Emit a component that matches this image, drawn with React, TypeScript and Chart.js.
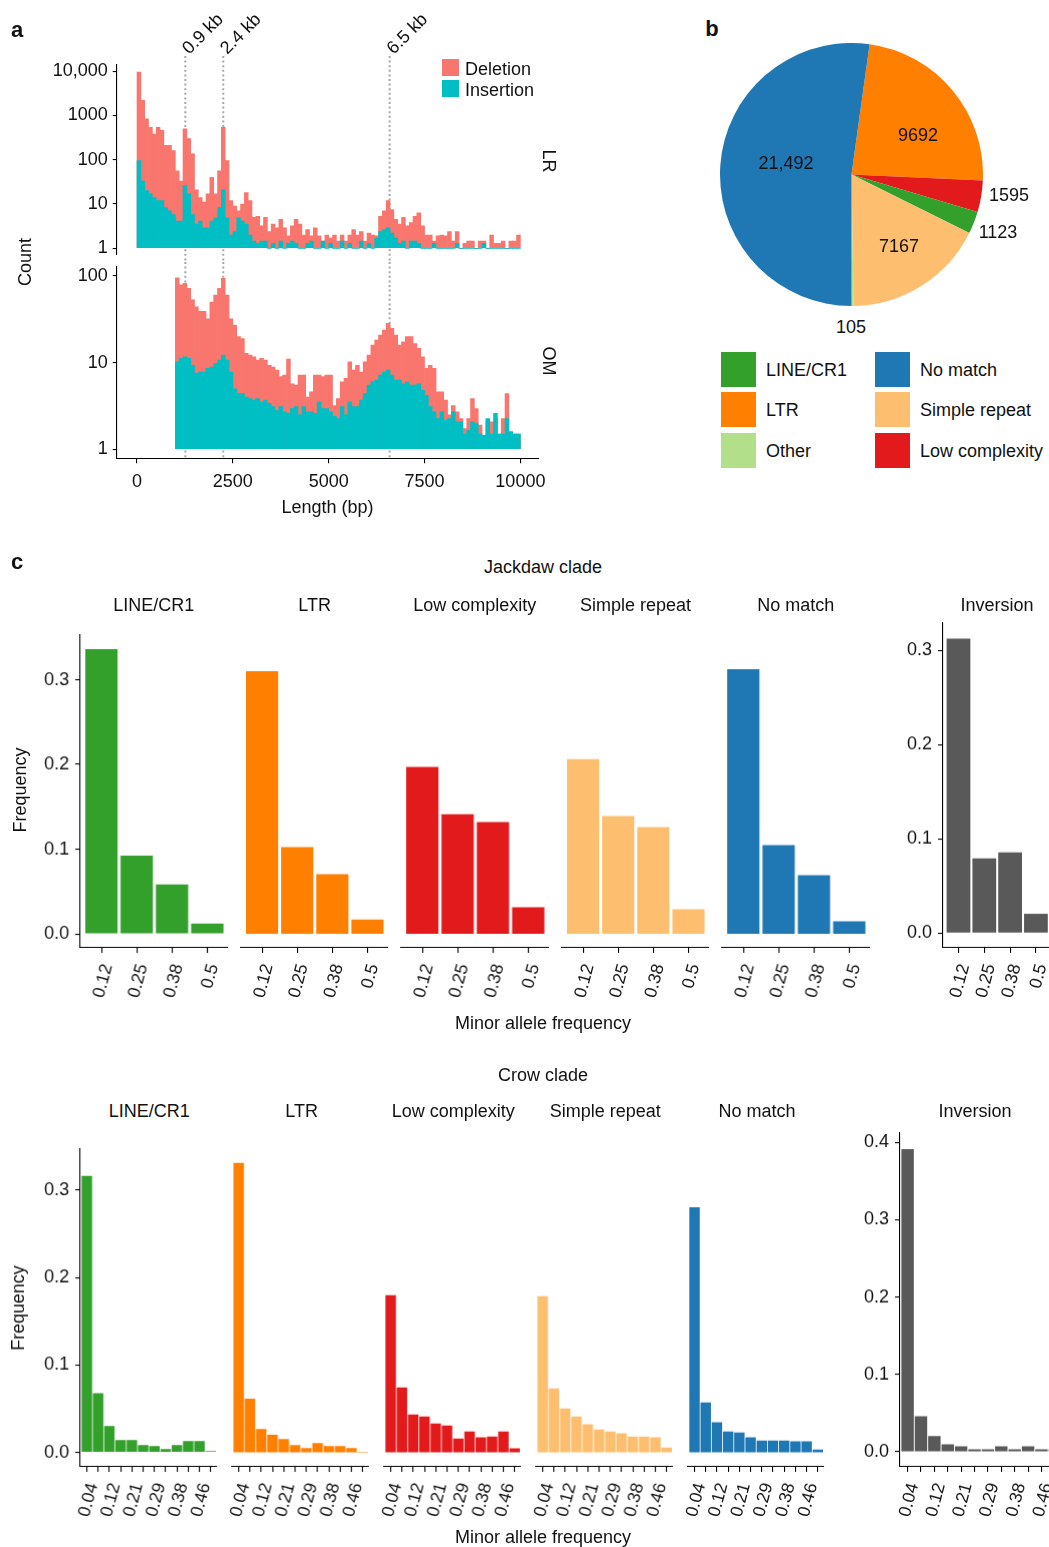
import React, { useEffect, useRef } from 'react';
import { Chart, registerables } from 'chart.js';

Chart.register(...registerables);

const FONT = '"Liberation Sans", Arial, Helvetica, sans-serif';
const INK = '#111111';
const AXIS = '#000000';
Chart.defaults.font.family = FONT;

// ================= Panel a : SV length histograms =================
const BIN_WIDTH_BP = 100;
const LR_FIRST_BIN_BP = 0;
const OM_FIRST_BIN_BP = 1000;

const LR_DELETION = [
  9500, 2200, 840, 540, 380, 540, 460, 210, 210, 160,
  56, 33, 500, 300, 135, 21, 14, 11, 17, 40,
  17, 56, 540, 95, 12, 9, 7, 10, 18, 12,
  5, 5.3, 3.2, 5, 2.4, 3.5, 2.9, 4.5, 2.9, 1.9,
  3.2, 4.5, 3.5, 2, 2.65, 1.9, 2.9, 1.9, 1.45, 2,
  1.7, 2, 1.45, 2, 1.45, 2, 2.65, 2, 2.4, 1.45,
  2.2, 2, 1.9, 5.3, 7, 12, 7.5, 4.5, 3.5, 5,
  3.2, 3.8, 5.3, 6.3, 3.2, 2, 2, 1.45, 1.9, 2,
  1.9, 2.4, 1.45, 2.4, 1, 1.3, 1.45, 1.45, 1, 1.45,
  1.45, 1, 2, 1.3, 1.3, 1.45, 1, 1.45, 1.45, 2,
];
const LR_INSERTION = [
  95, 33, 20, 17, 14, 12, 12, 8.3, 7, 5.8,
  4.1, 4.1, 26, 17, 5.8, 3.5, 4.1, 2.9, 2.9, 4.1,
  4.9, 8.3, 21, 4.9, 2, 2.4, 4.9, 4.1, 3.5, 2,
  1.45, 1.3, 1.45, 1.45, 1, 1.3, 1, 1.45, 1, 1.3,
  1.45, 1.3, 1, 1, 1.3, 1.45, 1, 1, 1.45, 1,
  1.3, 1, 1, 1.45, 1, 1.3, 1, 1, 1.45, 1,
  1.3, 1, 1.7, 2.4, 2.65, 2.9, 2.2, 1.7, 1.3, 1.45,
  1, 1.45, 1.45, 1.3, 1, 1, 1, 1.3, 1, 1,
  1, 1, 1, 1.3, 1, 1, 1, 1, 1, 1,
  1.3, 1, 1, 1, 1, 1, 1, 1, 1, 1,
];
const OM_DELETION = [
  95, 79, 82, 72, 53, 44, 39, 39, 32, 50,
  60, 72, 94, 60, 32, 27, 20, 19, 12.8, 12.2,
  11.7, 10.7, 11.2, 10.7, 9.3, 8.9, 8.2, 6.9, 7.2, 11,
  5.7, 5.5, 7.2, 7.2, 4.0, 4.6, 7.2, 7.2, 6.9, 7.2,
  7.2, 3.2, 3.85, 6.0, 6.6, 10.2, 8.2, 9.3, 7.8, 10.2,
  12.2, 15.9, 18.2, 20.8, 23.8, 28.4, 24.8, 20.8, 15.9, 17.4,
  20, 20, 16.6, 14.6, 11.7, 8.6, 9.3, 8.6, 4.6, 4.6,
  3.7, 2.5, 3.2, 2.7, 2.26, 1.73, 2.26, 3.85, 2.95, 1.9,
  1.45, 2.07, 2.07, 2.26, 1.5, 2.26, 4.4, 1.5, 1.5, 1.5,
];
const OM_INSERTION = [
  10.2, 11.2, 11.7, 11.2, 9.3, 7.5, 7.8, 7.8, 8.6, 8.9,
  9.8, 10.7, 12.2, 10.7, 7.8, 5.0, 4.4, 4.4, 4.0, 3.85,
  3.7, 3.85, 3.5, 3.7, 3.4, 3.1, 2.8, 3.1, 2.7, 2.6,
  2.95, 3.1, 2.5, 3.1, 2.7, 2.7, 2.6, 3.5, 2.95, 2.95,
  2.7, 2.4, 2.26, 3.1, 2.5, 3.5, 3.1, 3.1, 3.7, 4.4,
  5.5, 6.0, 6.3, 7.2, 7.8, 8.2, 7.2, 6.3, 6.3, 5.7,
  6.0, 5.5, 5.5, 5.7, 4.8, 4.2, 3.1, 2.7, 2.26, 2.7,
  2.16, 2.26, 2.7, 2.07, 2.07, 1.5, 1.66, 2.07, 1.98, 1.5,
  1.45, 2.26, 1.5, 2.6, 1.5, 1.5, 2.26, 1.6, 1.5, 1.5,
];
const LENGTH_TICKS = [0, 2500, 5000, 7500, 10000];
const LENGTH_TICK_LABELS = ['0', '2500', '5000', '7500', '10000'];
const LR_COUNT_TICKS = [1, 10, 100, 1000, 10000];
const LR_COUNT_TICK_LABELS = ['1', '10', '100', '1000', '10,000'];
const OM_COUNT_TICKS = [1, 10, 100];
const OM_COUNT_TICK_LABELS = ['1', '10', '100'];
const MARKER_BP = [1260, 2250, 6590];
const MARKER_LABELS = ['0.9 kb', '2.4 kb', '6.5 kb'];
const DELETION_COLOR = '#F8766D';
const INSERTION_COLOR = '#00BFC4';

// ================= Panel b : pie =================
const PIE_LABELS = ['LTR', 'Low complexity', 'LINE/CR1', 'Simple repeat', 'Other', 'No match'];
const PIE_VALUES = [9692, 1595, 1123, 7167, 105, 21492];
const PIE_COLORS = ['#FF7F00', '#E31A1C', '#33A02C', '#FDBF6F', '#B2DF8A', '#1F78B4'];
const LEGEND_ORDER = ['LINE/CR1', 'LTR', 'Other', 'No match', 'Simple repeat', 'Low complexity'];

// ================= Panel c : MAF spectra =================
const CLASS_TITLES = ['LINE/CR1', 'LTR', 'Low complexity', 'Simple repeat', 'No match'];
const CLASS_COLORS = ['#33A02C', '#FF7F00', '#E31A1C', '#FDBF6F', '#1F78B4'];
const INVERSION_COLOR = '#595959';

const JACKDAW_MAF = [0.125, 0.25, 0.375, 0.5];
const JACKDAW_MAF_LABELS = ['0.12', '0.25', '0.38', '0.5'];
const JACKDAW_LINE_CR1 = [0.336, 0.0925, 0.0583, 0.0122];
const JACKDAW_LTR = [0.310, 0.1024, 0.0705, 0.0169];
const JACKDAW_LOW_COMPLEXITY = [0.197, 0.1413, 0.1319, 0.0315];
const JACKDAW_SIMPLE_REPEAT = [0.2063, 0.139, 0.126, 0.0291];
const JACKDAW_NO_MATCH = [0.3126, 0.1047, 0.0693, 0.015];
const JACKDAW_INVERSION = [0.3124, 0.0794, 0.0858, 0.0205];
const JACKDAW_FREQ_TICKS = [0, 0.1, 0.2, 0.3];

const CROW_MAF = [0.0417, 0.0833, 0.125, 0.1667, 0.2083, 0.25, 0.2917, 0.3333, 0.375, 0.4167, 0.4583, 0.5];
const CROW_MAF_LABELS = ['0.04', '', '0.12', '', '0.21', '', '0.29', '', '0.38', '', '0.46', ''];
const CROW_LINE_CR1 = [0.3164, 0.0679, 0.0302, 0.0141, 0.0141, 0.0084, 0.0073, 0.0038, 0.0084, 0.013, 0.013, 0.0015];
const CROW_LTR = [0.3313, 0.0615, 0.0267, 0.0202, 0.0153, 0.0084, 0.005, 0.0107, 0.0073, 0.0073, 0.005, 0.0008];
const CROW_LOW_COMPLEXITY = [0.1798, 0.0744, 0.0435, 0.0412, 0.0332, 0.0309, 0.016, 0.024, 0.0172, 0.0183, 0.024, 0.0046];
const CROW_SIMPLE_REPEAT = [0.1786, 0.0733, 0.0504, 0.0412, 0.0321, 0.0263, 0.024, 0.0218, 0.0183, 0.0183, 0.0172, 0.0057];
const CROW_NO_MATCH = [0.2805, 0.0573, 0.0344, 0.024, 0.0229, 0.0172, 0.0137, 0.0137, 0.0137, 0.0126, 0.0126, 0.0034];
const CROW_INVERSION = [0.3914, 0.0461, 0.0203, 0.0099, 0.0073, 0.0034, 0.0034, 0.0073, 0.0034, 0.0073, 0.0034, 0.0034];
const CROW_FREQ_TICKS = [0, 0.1, 0.2, 0.3];
const CROW_INV_FREQ_TICKS = [0, 0.1, 0.2, 0.3, 0.4];

const JACKDAW_CLASS_VALUES = [JACKDAW_LINE_CR1, JACKDAW_LTR, JACKDAW_LOW_COMPLEXITY, JACKDAW_SIMPLE_REPEAT, JACKDAW_NO_MATCH];
const CROW_CLASS_VALUES = [CROW_LINE_CR1, CROW_LTR, CROW_LOW_COMPLEXITY, CROW_SIMPLE_REPEAT, CROW_NO_MATCH];

// ================= layout (page coordinates) =================
type Rect = { left: number; top: number; width: number; height: number };
type Area = { x0: number; y0: number; x1: number; y1: number };

const JD = { x0s: [80, 240.7, 401, 561.7, 722], width: 147.7, y0: 635, y1: 947.7, yMin: -0.0165, yMax: 0.3527, xMin: 0.05, xMax: 0.573 };
const JD_INV = { x0: 942.7, x1: 1051.5, y0: 623, y1: 947.7, yMin: -0.0156, yMax: 0.329, xMin: 0.05, xMax: 0.573 };
const CR = { x0s: [80, 232.3, 384, 536, 687.7], width: 138.7, y0: 1149.3, y1: 1466.7, yMin: -0.0165, yMax: 0.347, xMin: 0.0174, xMax: 0.5196 };
const CR_INV = { x0: 900, x1: 1063.2, y0: 1133.3, y1: 1466.7, yMin: -0.0194, yMax: 0.412, xMin: 0.018, xMax: 0.52 };

function frame(canvas: Rect, area: Area, showY: boolean, showX: boolean) {
  const left = area.x0 - canvas.left;
  const top = area.y0 - canvas.top;
  const right = canvas.left + canvas.width - area.x1;
  const bottom = canvas.top + canvas.height - area.y1;
  return {
    padding: { left: showY ? 0 : left, top, right, bottom: showX ? 0 : bottom },
    yWidth: showY ? left : 0,
    xHeight: showX ? bottom : 0,
  };
}

const axisGrid = (len: number) => ({
  display: true, drawOnChartArea: false, drawTicks: true, tickLength: len,
  color: AXIS, lineWidth: 1.1, offset: false,
});
const axisBorder = { display: true, color: AXIS, width: 1.1 };

function markerPlugin(fromY: number, toY: number | null, withLabels: boolean) {
  return {
    id: 'markers',
    beforeDatasetsDraw(chart: any) {
      const ctx = chart.ctx;
      const xs = chart.scales.x;
      const bottom = toY === null ? chart.chartArea.bottom : toY;
      ctx.save();
      ctx.strokeStyle = '#a6a6a6';
      ctx.lineWidth = 2;
      ctx.setLineDash([2, 2.6]);
      MARKER_BP.forEach((bp) => {
        const px = xs.getPixelForValue(bp);
        ctx.beginPath();
        ctx.moveTo(px, fromY);
        ctx.lineTo(px, bottom);
        ctx.stroke();
      });
      ctx.restore();
    },
    afterDraw(chart: any) {
      if (!withLabels) return;
      const ctx = chart.ctx;
      const xs = chart.scales.x;
      ctx.save();
      ctx.fillStyle = INK;
      ctx.font = `18px ${FONT}`;
      ctx.textAlign = 'left';
      ctx.textBaseline = 'alphabetic';
      MARKER_BP.forEach((bp, i) => {
        const px = xs.getPixelForValue(bp);
        ctx.save();
        ctx.translate(px + 4, fromY - 1);
        ctx.rotate(-Math.PI / 4);
        ctx.fillText(MARKER_LABELS[i], 0, 0);
        ctx.restore();
      });
      ctx.restore();
    },
  };
}

function histogramConfig(spec: {
  canvas: Rect; area: Area; showX: boolean; deletion: number[]; insertion: number[]; firstBin: number;
  yMin: number; yMax: number; yTicks: number[]; yTickLabels: string[];
  markerFrom: number; markerTo: number | null; markerLabels: boolean;
}) {
  const f = frame(spec.canvas, spec.area, true, spec.showX);
  const xs = spec.deletion.map((_, i) => spec.firstBin + BIN_WIDTH_BP * (i + 0.5));
  const common = { base: 1, grouped: false, barPercentage: 1, categoryPercentage: 1, borderWidth: 0 };
  return {
    type: 'bar',
    data: {
      datasets: [
        { label: 'Insertion', order: 0, data: xs.map((x, i) => ({ x, y: spec.insertion[i] })), backgroundColor: INSERTION_COLOR, ...common },
        { label: 'Deletion', order: 1, data: xs.map((x, i) => ({ x, y: spec.deletion[i] })), backgroundColor: DELETION_COLOR, ...common },
      ],
    },
    options: {
      responsive: false, animation: false, devicePixelRatio: 1, events: [],
      layout: { padding: f.padding },
      plugins: { legend: { display: false }, tooltip: { enabled: false } },
      scales: {
        x: {
          type: 'linear', display: spec.showX, min: -530, max: 10470, bounds: 'data', offset: false,
          grid: axisGrid(5), border: axisBorder,
          afterBuildTicks: (s: any) => { s.ticks = LENGTH_TICKS.map((v) => ({ value: v })); },
          afterFit: (s: any) => { s.height = f.xHeight; },
          ticks: {
            autoSkip: false, minRotation: 0, maxRotation: 0, padding: 8, color: INK,
            font: { family: FONT, size: 18 },
            callback: (_v: any, i: number) => LENGTH_TICK_LABELS[i],
          },
        },
        y: {
          type: 'logarithmic', min: spec.yMin, max: spec.yMax, bounds: 'data',
          grid: axisGrid(4), border: axisBorder,
          afterBuildTicks: (s: any) => { s.ticks = spec.yTicks.map((v) => ({ value: v })); },
          afterFit: (s: any) => { s.width = f.yWidth; },
          ticks: {
            autoSkip: false, padding: 5, color: INK, font: { family: FONT, size: 18 },
            callback: (_v: any, i: number) => spec.yTickLabels[i],
          },
        },
      },
    },
    plugins: [markerPlugin(spec.markerFrom, spec.markerTo, spec.markerLabels)],
  };
}

function mafConfig(spec: {
  canvas: Rect; area: Area; xs: number[]; labels: string[]; values: number[]; color: string;
  xMin: number; xMax: number; yMin: number; yMax: number; yTicks: number[] | null; barPct: number;
}) {
  const showY = spec.yTicks !== null;
  const f = frame(spec.canvas, spec.area, showY, true);
  return {
    type: 'bar',
    data: {
      datasets: [{
        data: spec.xs.map((x, i) => ({ x, y: spec.values[i] })),
        backgroundColor: spec.color, borderWidth: 0, barPercentage: spec.barPct, categoryPercentage: 1,
      }],
    },
    options: {
      responsive: false, animation: false, devicePixelRatio: 1, events: [],
      layout: { padding: f.padding },
      plugins: { legend: { display: false }, tooltip: { enabled: false } },
      scales: {
        x: {
          type: 'linear', min: spec.xMin, max: spec.xMax, bounds: 'data', offset: false,
          grid: axisGrid(5), border: axisBorder,
          afterBuildTicks: (s: any) => { s.ticks = spec.xs.map((v) => ({ value: v })); },
          afterFit: (s: any) => { s.height = f.xHeight; },
          ticks: {
            autoSkip: false, minRotation: 75, maxRotation: 75, padding: 9, labelOffset: 6,
            color: INK, font: { family: FONT, size: 17.5 },
            callback: (_v: any, i: number) => spec.labels[i],
          },
        },
        y: {
          display: showY, min: spec.yMin, max: spec.yMax, bounds: 'data',
          grid: axisGrid(5), border: axisBorder,
          afterBuildTicks: (s: any) => { s.ticks = (spec.yTicks || []).map((v) => ({ value: v })); },
          afterFit: (s: any) => { s.width = f.yWidth; },
          ticks: {
            autoSkip: false, padding: 6, color: INK, font: { family: FONT, size: 18 },
            callback: (v: any) => Number(v).toFixed(1),
          },
        },
      },
    },
  };
}

function pieConfig() {
  return {
    type: 'pie',
    data: {
      labels: PIE_LABELS,
      datasets: [{ data: PIE_VALUES, backgroundColor: PIE_COLORS, borderWidth: 0, hoverOffset: 0, hoverBorderWidth: 0 }],
    },
    options: {
      responsive: false, animation: false, devicePixelRatio: 1, events: [],
      rotation: 7.9,
      layout: { padding: 0 },
      plugins: { legend: { display: false }, tooltip: { enabled: false } },
    },
  };
}

function ChartCanvas({ rect, build }: { rect: Rect; build: () => any }) {
  const ref = useRef<HTMLCanvasElement | null>(null);
  useEffect(() => {
    const chart = new Chart(ref.current as HTMLCanvasElement, build());
    return () => chart.destroy();
  }, []);
  return (
    <canvas
      ref={ref}
      width={rect.width}
      height={rect.height}
      style={{ position: 'absolute', left: rect.left, top: rect.top, width: rect.width, height: rect.height }}
    />
  );
}

function Txt({ x, y, children, size = 18, bold = false, rotate = 0, align = 'center' }: any) {
  const tx = align === 'left' ? '0' : '-50%';
  return (
    <div
      style={{
        position: 'absolute', left: x, top: y, transform: `translate(${tx},-50%) rotate(${rotate}deg)`,
        fontFamily: FONT, fontSize: size, fontWeight: bold ? 700 : 400, whiteSpace: 'nowrap',
        lineHeight: 1, color: INK,
      }}
    >
      {children}
    </div>
  );
}

function Swatch({ x, y, w, h, color }: any) {
  return <div style={{ position: 'absolute', left: x, top: y, width: w, height: h, background: color }} />;
}

const fmtCount = (v: number) => (v >= 10000 ? v.toLocaleString('en-US') : String(v));
const PIE_LABEL_POS: Record<string, [number, number]> = {
  'No match': [786, 163], 'LTR': [918, 135], 'Simple repeat': [899, 246],
  'Low complexity': [1009, 195], 'LINE/CR1': [998, 232], 'Other': [851, 327],
};
const LEGEND_POS: Record<string, [number, number]> = {
  'LINE/CR1': [721, 352], 'LTR': [721, 392], 'Other': [721, 433],
  'No match': [875, 352], 'Simple repeat': [875, 392], 'Low complexity': [875, 433],
};

export default function App() {
  const charts: { key: string; rect: Rect; build: () => any }[] = [];

  // Panel a
  const lrCanvas = { left: 0, top: 0, width: 560, height: 285 };
  charts.push({
    key: 'lr', rect: lrCanvas,
    build: () => histogramConfig({
      canvas: lrCanvas, area: { x0: 116.7, y0: 65, x1: 538.4, y1: 255 }, showX: false,
      deletion: LR_DELETION, insertion: LR_INSERTION, firstBin: LR_FIRST_BIN_BP,
      yMin: 0.706, yMax: 13740, yTicks: LR_COUNT_TICKS, yTickLabels: LR_COUNT_TICK_LABELS,
      markerFrom: 56, markerTo: 262, markerLabels: true,
    }),
  });
  const omCanvas = { left: 0, top: 240, width: 560, height: 290 };
  charts.push({
    key: 'om', rect: omCanvas,
    build: () => histogramConfig({
      canvas: omCanvas, area: { x0: 116.7, y0: 266.7, x1: 538.4, y1: 458.3 }, showX: true,
      deletion: OM_DELETION, insertion: OM_INSERTION, firstBin: OM_FIRST_BIN_BP,
      yMin: 0.787, yMax: 127.9, yTicks: OM_COUNT_TICKS, yTickLabels: OM_COUNT_TICK_LABELS,
      markerFrom: 262 - 240, markerTo: null, markerLabels: false,
    }),
  });

  // Panel b
  const pieCanvas = { left: 719.8, top: 42.5, width: 263, height: 263 };
  charts.push({ key: 'pie', rect: pieCanvas, build: pieConfig });

  // Panel c
  const addMaf = (key: string, area: Area, showY: boolean, p: any) => {
    const ml = showY ? 60 : 20;
    const canvas = { left: area.x0 - ml, top: area.y0 - 22, width: area.x1 - area.x0 + ml + 22, height: area.y1 - area.y0 + 22 + 72 };
    charts.push({ key, rect: canvas, build: () => mafConfig({ canvas, area, ...p }) });
  };
  CLASS_TITLES.forEach((_, i) => {
    const x0 = JD.x0s[i];
    addMaf(`jd${i}`, { x0, y0: JD.y0, x1: x0 + JD.width, y1: JD.y1 }, i === 0, {
      xs: JACKDAW_MAF, labels: JACKDAW_MAF_LABELS, values: JACKDAW_CLASS_VALUES[i], color: CLASS_COLORS[i],
      xMin: JD.xMin, xMax: JD.xMax, yMin: JD.yMin, yMax: JD.yMax, yTicks: i === 0 ? JACKDAW_FREQ_TICKS : null, barPct: 0.915,
    });
    const cx0 = CR.x0s[i];
    addMaf(`cr${i}`, { x0: cx0, y0: CR.y0, x1: cx0 + CR.width, y1: CR.y1 }, i === 0, {
      xs: CROW_MAF, labels: CROW_MAF_LABELS, values: CROW_CLASS_VALUES[i], color: CLASS_COLORS[i],
      xMin: CR.xMin, xMax: CR.xMax, yMin: CR.yMin, yMax: CR.yMax, yTicks: i === 0 ? CROW_FREQ_TICKS : null, barPct: 0.93,
    });
  });
  addMaf('jdinv', { x0: JD_INV.x0, y0: JD_INV.y0, x1: JD_INV.x1, y1: JD_INV.y1 }, true, {
    xs: JACKDAW_MAF, labels: JACKDAW_MAF_LABELS, values: JACKDAW_INVERSION, color: INVERSION_COLOR,
    xMin: JD_INV.xMin, xMax: JD_INV.xMax, yMin: JD_INV.yMin, yMax: JD_INV.yMax, yTicks: JACKDAW_FREQ_TICKS, barPct: 0.92,
  });
  addMaf('crinv', { x0: CR_INV.x0, y0: CR_INV.y0, x1: CR_INV.x1, y1: CR_INV.y1 }, true, {
    xs: CROW_MAF, labels: CROW_MAF_LABELS, values: CROW_INVERSION, color: INVERSION_COLOR,
    xMin: CR_INV.xMin, xMax: CR_INV.xMax, yMin: CR_INV.yMin, yMax: CR_INV.yMax, yTicks: CROW_INV_FREQ_TICKS, barPct: 0.93,
  });

  return (
    <div style={{ position: 'absolute', left: 0, top: 0, width: 1049, height: 1547, overflow: 'hidden', background: '#ffffff' }}>
      {charts.map((c) => <ChartCanvas key={c.key} rect={c.rect} build={c.build} />)}

      {/* Panel a texts */}
      <Txt x={17} y={30} size={22} bold>a</Txt>
      <Txt x={25} y={262} rotate={-90}>Count</Txt>
      <Txt x={327.5} y={507}>Length (bp)</Txt>
      <Txt x={549} y={161} rotate={90}>LR</Txt>
      <Txt x={549} y={361} rotate={90}>OM</Txt>
      <Swatch x={442} y={59.3} w={17.2} h={16.7} color={DELETION_COLOR} />
      <Swatch x={442} y={80} w={17.2} h={17.3} color={INSERTION_COLOR} />
      <Txt x={465} y={68.5} align="left">Deletion</Txt>
      <Txt x={465} y={89.5} align="left">Insertion</Txt>

      {/* Panel b texts */}
      <Txt x={712} y={29} size={22} bold>b</Txt>
      {PIE_LABELS.map((name, i) => (
        <Txt key={name} x={PIE_LABEL_POS[name][0]} y={PIE_LABEL_POS[name][1]}>{fmtCount(PIE_VALUES[i])}</Txt>
      ))}
      {LEGEND_ORDER.map((name) => {
        const [lx, ly] = LEGEND_POS[name];
        const color = PIE_COLORS[PIE_LABELS.indexOf(name)];
        return (
          <React.Fragment key={name}>
            <Swatch x={lx} y={ly} w={34.7} h={34.7} color={color} />
            <Txt x={lx + 45} y={ly + 18} align="left">{name}</Txt>
          </React.Fragment>
        );
      })}

      {/* Panel c texts */}
      <Txt x={17} y={562} size={22} bold>c</Txt>
      <Txt x={543} y={567}>Jackdaw clade</Txt>
      {CLASS_TITLES.map((t, i) => (
        <Txt key={`jt${i}`} x={JD.x0s[i] + JD.width / 2} y={605}>{t}</Txt>
      ))}
      <Txt x={997} y={605}>Inversion</Txt>
      <Txt x={20} y={790} rotate={-90}>Frequency</Txt>
      <Txt x={543} y={1023}>Minor allele frequency</Txt>

      <Txt x={543} y={1075}>Crow clade</Txt>
      {CLASS_TITLES.map((t, i) => (
        <Txt key={`ct${i}`} x={CR.x0s[i] + CR.width / 2} y={1111}>{t}</Txt>
      ))}
      <Txt x={975} y={1111}>Inversion</Txt>
      <Txt x={18} y={1308} rotate={-90}>Frequency</Txt>
      <Txt x={543} y={1537}>Minor allele frequency</Txt>
    </div>
  );
}
